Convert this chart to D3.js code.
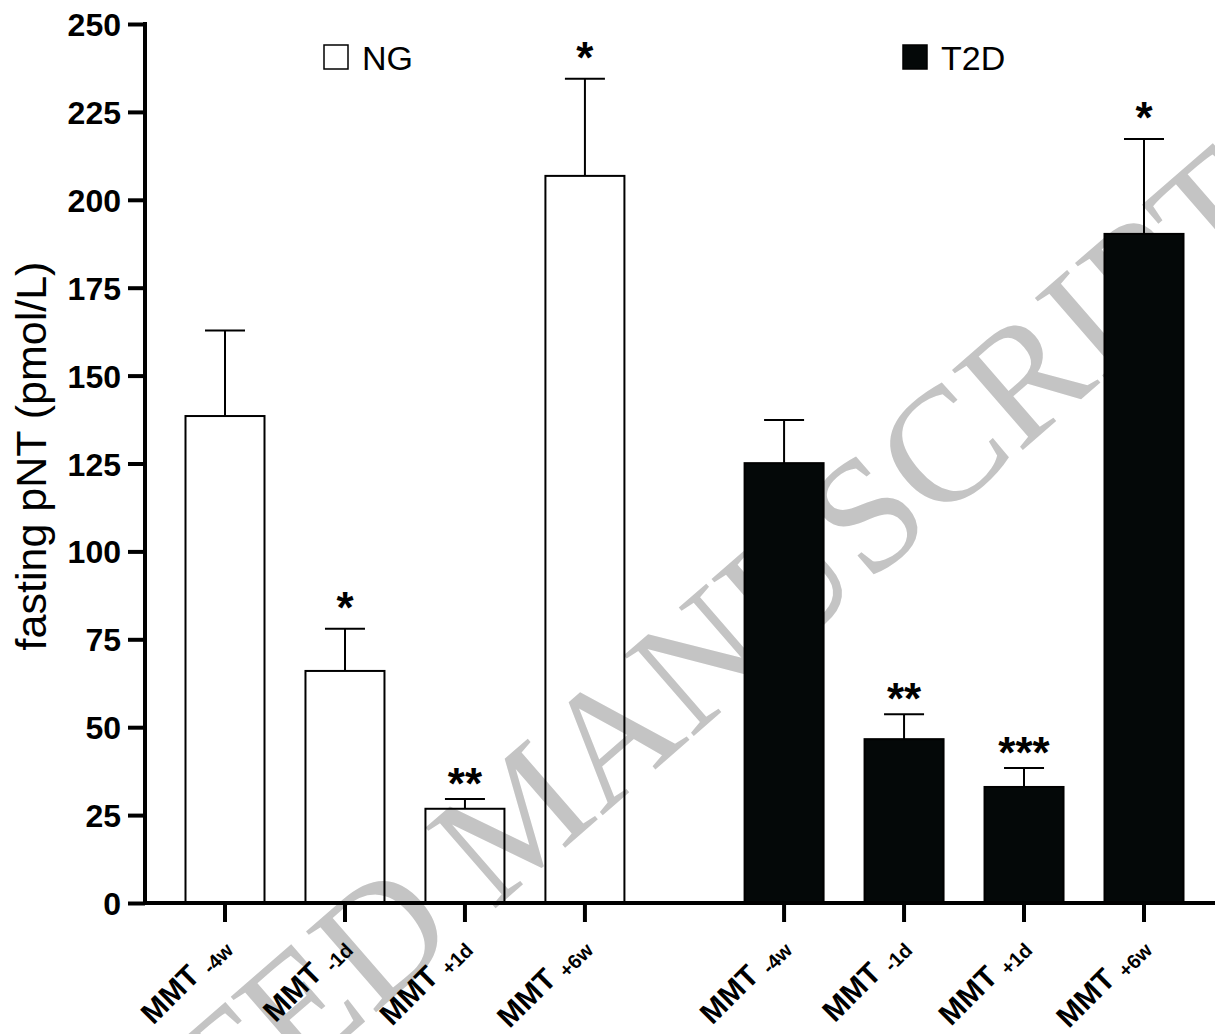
<!DOCTYPE html>
<html>
<head>
<meta charset="utf-8">
<script src="https://cdn.jsdelivr.net/npm/d3@7"></script>
<style>
  body { margin: 0; background: #fff; }
  svg { display: block; font-family: "Liberation Sans", Arial, sans-serif; }
</style>
</head>
<body>
<svg width="1215" height="1034"></svg>
<script>
const groups = ["NG", "T2D"];
const timepoints = ["-4w", "-1d", "+1d", "+6w"];
const ngMean = [138.5, 66, 26.8, 206.8];
const ngUpper = [162.8, 78, 29.6, 234.4];
const ngStars = ["", "*", "**", "*"];
const t2dMean = [125.1, 46.6, 33, 190.3];
const t2dUpper = [137.4, 53.7, 38.4, 217.3];
const t2dStars = ["", "**", "***", "*"];
const yTicks = [0, 25, 50, 75, 100, 125, 150, 175, 200, 225, 250];

const svg = d3.select("svg");

// slot positions: 4 bars per group, the gap between groups is a bit wider than one slot
const groupGap = 1.66;
const x = d3.scaleLinear().domain([0, 3 + groupGap + 3]).range([225, 1144]);
const y = d3.scaleLinear().domain([0, 250]).range([903, 24]);
const barW = 79;

const rows = [];
groups.forEach((g, gi) => {
  const mean = gi === 0 ? ngMean : t2dMean;
  const upper = gi === 0 ? ngUpper : t2dUpper;
  const stars = gi === 0 ? ngStars : t2dStars;
  timepoints.forEach((t, i) => {
    rows.push({ group: g, gi: gi, t: t, mean: mean[i], upper: upper[i], star: stars[i],
                slot: i + gi * (3 + groupGap) });
  });
});

// watermark
svg.append("text")
   .attr("transform", "translate(1285,222) rotate(-41)")
   .attr("text-anchor", "end")
   .style("font-family", "'Liberation Serif', 'DejaVu Serif', serif")
   .style("font-size", "163px")
   .style("fill", "#c4c4c4")
   .text("ACCEPTED MANUSCRIPT");

// bars
svg.selectAll("rect.bar")
   .data(rows)
   .enter()
   .append("rect")
   .attr("class", "bar")
   .attr("x", d => x(d.slot) - barW / 2)
   .attr("y", d => y(d.mean))
   .attr("width", barW)
   .attr("height", d => y(0) - y(d.mean))
   .style("fill", d => d.gi === 0 ? "none" : "#040808")
   .style("stroke", "#000")
   .style("stroke-width", 2);

// error bars (upper only)
const err = svg.selectAll("g.err")
   .data(rows)
   .enter()
   .append("g")
   .attr("class", "err")
   .style("stroke", "#000")
   .style("stroke-width", 2);

err.append("line")
   .attr("x1", d => x(d.slot)).attr("x2", d => x(d.slot))
   .attr("y1", d => y(d.mean)).attr("y2", d => y(d.upper));
err.append("line")
   .attr("x1", d => x(d.slot) - 20).attr("x2", d => x(d.slot) + 20)
   .attr("y1", d => y(d.upper)).attr("y2", d => y(d.upper));

// significance stars
svg.selectAll("text.star")
   .data(rows.filter(d => d.star))
   .enter()
   .append("text")
   .attr("class", "star")
   .attr("x", d => x(d.slot))
   .attr("y", d => y(d.upper) - (d.star.length === 1 ? 6 : 0))
   .attr("text-anchor", "middle")
   .style("font-size", "44px")
   .style("font-weight", "bold")
   .text(d => d.star);

// y axis
const yAxis = svg.append("g")
   .attr("transform", `translate(145,0)`)
   .call(d3.axisLeft(y).tickValues(yTicks).tickSize(17).tickPadding(7).tickSizeOuter(0));
yAxis.select(".domain").attr("stroke-width", 4).attr("d", `M0,${y(250) - 2}V${y(0) + 2}`);
yAxis.selectAll(".tick line").attr("stroke-width", 4);
yAxis.selectAll(".tick text")
   .attr("dy", "0.36em")
   .style("font-size", "32px")
   .style("font-weight", "bold")
   .style("font-family", "'Liberation Sans', Arial, sans-serif")
   .attr("fill", "#000");

// x axis
const xg = svg.append("g");
xg.append("line")
  .attr("x1", 143).attr("x2", 1215)
  .attr("y1", y(0)).attr("y2", y(0))
  .attr("stroke", "#000").attr("stroke-width", 4);
xg.selectAll("line.xt")
  .data(rows)
  .enter()
  .append("line")
  .attr("class", "xt")
  .attr("x1", d => x(d.slot)).attr("x2", d => x(d.slot))
  .attr("y1", y(0)).attr("y2", y(0) + 19)
  .attr("stroke", "#000").attr("stroke-width", 4);

const xl = xg.selectAll("text.xl")
  .data(rows)
  .enter()
  .append("text")
  .attr("class", "xl")
  .attr("transform", d => `translate(${x(d.slot) + 6},${y(0) + 45}) rotate(-45)`)
  .attr("text-anchor", "end")
  .style("font-weight", "bold")
  .style("font-size", "30px");
xl.append("tspan").text("MMT ");
xl.append("tspan").attr("dy", 5).style("font-size", "20px").text(d => d.t);

// y label
svg.append("text")
   .attr("transform", "translate(46,456) rotate(-90)")
   .attr("text-anchor", "middle")
   .style("font-size", "43px")
   .text("fasting pNT (pmol/L)");

// legend
const legend = svg.selectAll("g.legend")
   .data(groups)
   .enter()
   .append("g")
   .attr("class", "legend")
   .attr("transform", (d, i) => `translate(${i === 0 ? 324 : 903},45)`);
legend.append("rect")
   .attr("width", 24).attr("height", 24)
   .style("fill", (d, i) => i === 0 ? "#fff" : "#040808")
   .style("stroke", "#000")
   .style("stroke-width", 1.5);
legend.append("text")
   .attr("x", 38).attr("y", 25)
   .style("font-size", "34px")
   .text(d => d);
</script>
</body>
</html>
